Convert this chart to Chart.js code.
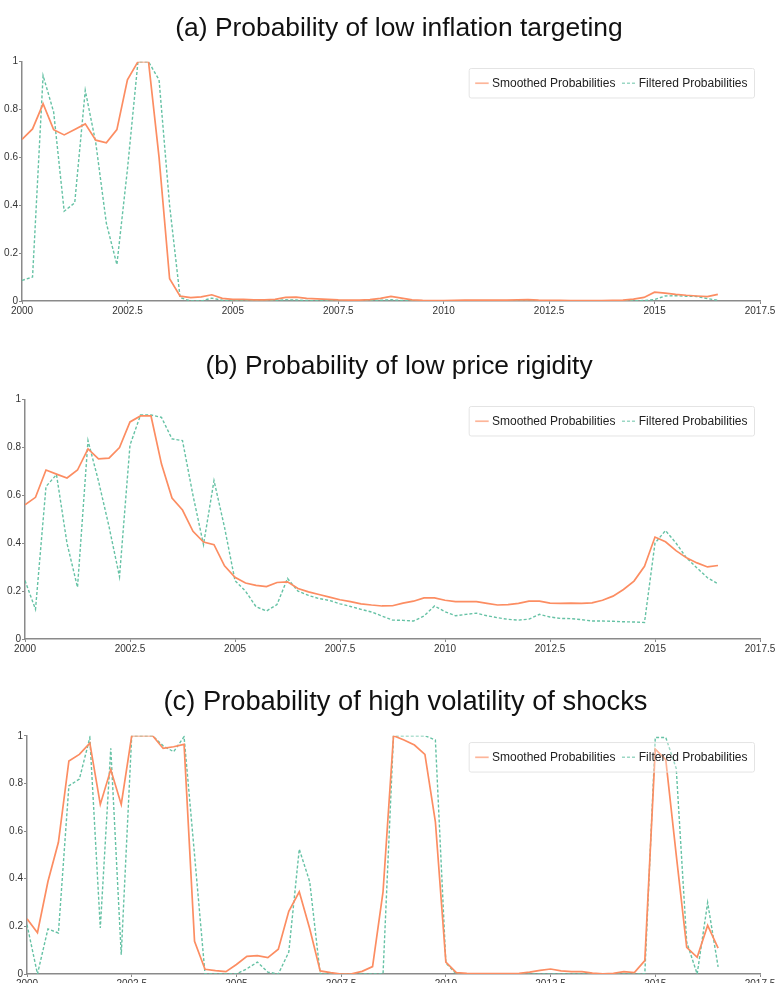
<!DOCTYPE html>
<html>
<head>
<meta charset="utf-8">
<script src="https://cdn.jsdelivr.net/npm/chart.js@4/dist/chart.umd.min.js"></script>
<style>
  html, body { margin: 0; padding: 0; overflow: hidden; background: #fff; }
  .panel { position: absolute; left: 0; }
</style>
</head>
<body>
<canvas class="panel" id="chartA" width="784" height="336" style="top:0px"></canvas>
<canvas class="panel" id="chartB" width="784" height="336" style="top:338px"></canvas>
<canvas class="panel" id="chartC" width="784" height="336" style="top:673px"></canvas>
<script>
// quarterly dates, 2000Q1 .. 2016Q3
var quarters = [
  2000, 2000.25, 2000.5, 2000.75, 2001, 2001.25, 2001.5, 2001.75,
  2002, 2002.25, 2002.5, 2002.75, 2003, 2003.25, 2003.5, 2003.75,
  2004, 2004.25, 2004.5, 2004.75, 2005, 2005.25, 2005.5, 2005.75,
  2006, 2006.25, 2006.5, 2006.75, 2007, 2007.25, 2007.5, 2007.75,
  2008, 2008.25, 2008.5, 2008.75, 2009, 2009.25, 2009.5, 2009.75,
  2010, 2010.25, 2010.5, 2010.75, 2011, 2011.25, 2011.5, 2011.75,
  2012, 2012.25, 2012.5, 2012.75, 2013, 2013.25, 2013.5, 2013.75,
  2014, 2014.25, 2014.5, 2014.75, 2015, 2015.25, 2015.5, 2015.75,
  2016, 2016.25, 2016.5
];

var seriesNames = ["Smoothed Probabilities", "Filtered Probabilities"];

var titles = [
  "(a) Probability of low inflation targeting",
  "(b) Probability of low price rigidity",
  "(c) Probability of high volatility of shocks"
];

// (a) low inflation targeting
var smoothedA = [
  0.675, 0.719, 0.824, 0.716, 0.694, 0.717, 0.740, 0.672,
  0.661, 0.716, 0.924, 1.0, 1.0, 0.60, 0.093, 0.020,
  0.014, 0.017, 0.026, 0.011, 0.007, 0.007, 0.005, 0.005,
  0.007, 0.015, 0.016, 0.011, 0.009, 0.007, 0.005, 0.004,
  0.004, 0.006, 0.011, 0.019, 0.012, 0.005, 0.003, 0.002,
  0.002, 0.003, 0.004, 0.004, 0.004, 0.004, 0.004, 0.005,
  0.006, 0.004, 0.003, 0.003, 0.002, 0.002, 0.002, 0.002,
  0.003, 0.004, 0.008, 0.015, 0.037, 0.033, 0.028, 0.024,
  0.021, 0.018, 0.028
];
var filteredA = [
  0.086, 0.100, 0.942, 0.790, 0.375, 0.410, 0.880, 0.660,
  0.325, 0.152, 0.550, 1.0, 1.0, 0.924, 0.400, 0.014,
  0.0, 0.0, 0.012, 0.003, 0.001, 0.001, 0.001, 0.001,
  0.002, 0.005, 0.004, 0.002, 0.001, 0.001, 0.001, 0.001,
  0.001, 0.002, 0.003, 0.005, 0.002, 0.001, 0.001, 0.001,
  0.001, 0.001, 0.001, 0.001, 0.001, 0.001, 0.001, 0.001,
  0.002, 0.001, 0.001, 0.001, 0.001, 0.001, 0.001, 0.001,
  0.001, 0.001, 0.001, 0.002, 0.006, 0.021, 0.022, 0.020,
  0.019, 0.010, 0.003
];

// (b) low price rigidity
var smoothedB = [
  0.561, 0.592, 0.706, 0.689, 0.673, 0.706, 0.794, 0.753,
  0.756, 0.800, 0.907, 0.932, 0.932, 0.731, 0.589, 0.539,
  0.450, 0.405, 0.394, 0.306, 0.258, 0.234, 0.224, 0.219,
  0.236, 0.239, 0.211, 0.197, 0.186, 0.175, 0.164, 0.156,
  0.147, 0.142, 0.138, 0.139, 0.150, 0.158, 0.172, 0.172,
  0.162, 0.156, 0.156, 0.156, 0.149, 0.142, 0.144, 0.149,
  0.158, 0.158, 0.150, 0.149, 0.150, 0.149, 0.151, 0.162,
  0.179, 0.207, 0.242, 0.304, 0.426, 0.406, 0.369, 0.339,
  0.318, 0.301, 0.307
];
var filteredB = [
  0.244, 0.124, 0.637, 0.687, 0.400, 0.216, 0.829, 0.660,
  0.470, 0.260, 0.810, 0.936, 0.936, 0.926, 0.836, 0.829,
  0.600, 0.394, 0.662, 0.467, 0.244, 0.200, 0.135, 0.117,
  0.144, 0.253, 0.200, 0.182, 0.169, 0.161, 0.147, 0.136,
  0.124, 0.113, 0.096, 0.079, 0.078, 0.075, 0.096, 0.138,
  0.114, 0.097, 0.103, 0.108, 0.097, 0.089, 0.082, 0.079,
  0.083, 0.103, 0.092, 0.086, 0.085, 0.081, 0.075, 0.075,
  0.074, 0.072, 0.071, 0.069, 0.401, 0.453, 0.401, 0.339,
  0.297, 0.256, 0.231
];

// (c) high volatility of shocks
var smoothedC = [
  0.232, 0.173, 0.388, 0.553, 0.894, 0.922, 0.969, 0.712,
  0.858, 0.712, 1.0, 1.0, 1.0, 0.947, 0.954, 0.964,
  0.137, 0.020, 0.014, 0.010, 0.040, 0.074, 0.077, 0.069,
  0.104, 0.263, 0.345, 0.190, 0.013, 0.006, 0.0, 0.001,
  0.011, 0.031, 0.345, 1.0, 0.982, 0.961, 0.922, 0.639,
  0.050, 0.006, 0.003, 0.002, 0.002, 0.002, 0.002, 0.003,
  0.008, 0.015, 0.021, 0.013, 0.010, 0.010, 0.004, 0.001,
  0.003, 0.010, 0.006, 0.056, 0.944, 0.900, 0.500, 0.112,
  0.070, 0.204, 0.109
];
var filteredC = [
  0.207, 0.0, 0.189, 0.172, 0.790, 0.818, 0.992, 0.193,
  0.947, 0.081, 1.0, 1.0, 1.0, 0.958, 0.933, 0.996,
  0.500, 0.0, 0.0, 0.0, 0.0, 0.022, 0.050, 0.008,
  0.0, 0.092, 0.524, 0.387, 0.0, 0.0, 0.0, 0.0,
  0.0, 0.0, 0.0, 1.0, 1.0, 1.0, 1.0, 0.982,
  0.046, 0.0, 0.0, 0.0, 0.0, 0.0, 0.0, 0.0,
  0.0, 0.0, 0.0, 0.0, 0.0, 0.0, 0.0, 0.0,
  0.0, 0.0, 0.0, 0.0, 0.993, 0.993, 0.863, 0.134,
  0.0, 0.300, 0.030
];

var xTicks = [2000, 2002.5, 2005, 2007.5, 2010, 2012.5, 2015, 2017.5];
var yTicks = [0, 0.2, 0.4, 0.6, 0.8, 1];

var smoothColor = "#fc8d62";
var filterColor = "#66c2a5";

Chart.defaults.font.family = '"Liberation Sans", Arial, Helvetica, sans-serif';

// move the title box so its text is centred where the reference has it
var titleShift = {
  id: "titleShift",
  afterLayout: function (chart, args, opts) {
    var t = chart.titleBlock;
    if (!t || !opts.center) return;
    var half = Math.min(opts.center, chart.width - opts.center);
    t.left = opts.center - half;
    t.right = opts.center + half;
  }
};

// legend box drawn inside the plot, top right
var insideLegend = {
  id: "insideLegend",
  afterDatasetsDraw: function (chart) {
    var ctx = chart.ctx, area = chart.chartArea;
    var sets = chart.data.datasets;
    var sample = 13.5, gap = 3.3, between = 6.6, pad = 6.5, h = 29.5;
    ctx.save();
    ctx.font = '12px "Liberation Sans", Arial, sans-serif';
    var w = pad * 2;
    sets.forEach(function (ds, i) {
      w += sample + gap + ctx.measureText(ds.label).width + (i ? between : 0);
    });
    var right = area.right - 6, top = area.top + 6.3, left = right - w;

    ctx.beginPath();
    ctx.roundRect(left + 0.5, top + 0.5, w, h, 2);
    ctx.fillStyle = "rgba(255,255,255,0.35)";
    ctx.fill();
    ctx.strokeStyle = "#e4e4e4";
    ctx.lineWidth = 1;
    ctx.stroke();

    var x = left + pad, cy = top + h / 2 + 0.5;
    sets.forEach(function (ds, i) {
      if (i) x += between;
      ctx.save();
      ctx.globalAlpha = 0.65;
      ctx.beginPath();
      ctx.setLineDash(ds.borderDash || []);
      ctx.strokeStyle = ds.borderColor;
      ctx.lineWidth = ds.borderWidth;
      ctx.moveTo(x, cy);
      ctx.lineTo(x + sample, cy);
      ctx.stroke();
      ctx.restore();
      x += sample + gap;
      ctx.fillStyle = "#222";
      ctx.textBaseline = "middle";
      ctx.fillText(ds.label, x, cy);
      x += ctx.measureText(ds.label).width;
    });
    ctx.restore();
  }
};

function makePanel(id, title, smoothed, filtered, leftWidth, titleSize, titleCenter) {
  return new Chart(document.getElementById(id), {
    type: "line",
    data: {
      labels: quarters,
      datasets: [
        {
          label: seriesNames[0],
          data: smoothed,
          borderColor: smoothColor,
          borderWidth: 1.7,
          pointRadius: 0,
          tension: 0,
          fill: false
        },
        {
          label: seriesNames[1],
          data: filtered,
          borderColor: filterColor,
          borderWidth: 1.4,
          borderDash: [3, 2],
          pointRadius: 0,
          tension: 0,
          fill: false
        }
      ]
    },
    options: {
      responsive: false,
      animation: false,
      devicePixelRatio: 1,
      layout: { padding: { left: 0, right: 24, top: 0, bottom: 0 } },
      plugins: {
        legend: { display: false },
        tooltip: { enabled: false },
        titleShift: { center: titleCenter },
        title: {
          display: true,
          text: title,
          color: "#111",
          font: { size: titleSize, weight: "normal" },
          padding: { top: 13, bottom: 17 }
        }
      },
      scales: {
        x: {
          type: "linear",
          min: xTicks[0],
          max: xTicks[xTicks.length - 1],
          afterBuildTicks: function (s) { s.ticks = xTicks.map(function (v) { return { value: v }; }); },
          afterFit: function (s) { s.height = 35; },
          ticks: {
            autoSkip: false,
            maxRotation: 0,
            padding: 1,
            color: "#333",
            font: { size: 10 },
            callback: function (v) { return String(v); }
          },
          grid: { drawOnChartArea: false, drawTicks: true, tickLength: 3, color: "#8a8a8a" },
          border: { color: "#8a8a8a", width: 1.5 }
        },
        y: {
          min: 0,
          max: 1,
          afterBuildTicks: function (s) { s.ticks = yTicks.map(function (v) { return { value: v }; }); },
          afterFit: function (s) { s.width = leftWidth; },
          ticks: {
            padding: 1,
            color: "#333",
            font: { size: 10 },
            callback: function (v) { return String(Math.round(v * 10) / 10); }
          },
          grid: { drawOnChartArea: false, drawTicks: true, tickLength: 3, color: "#8a8a8a" },
          border: { color: "#8a8a8a", width: 1.5 }
        }
      }
    },
    plugins: [titleShift, insideLegend]
  });
}

makePanel("chartA", titles[0], smoothedA, filteredA, 22, 26.4, 399);
makePanel("chartB", titles[1], smoothedB, filteredB, 25, 26.4, 399);
makePanel("chartC", titles[2], smoothedC, filteredC, 27, 27.3, 405.5);
</script>
</body>
</html>
